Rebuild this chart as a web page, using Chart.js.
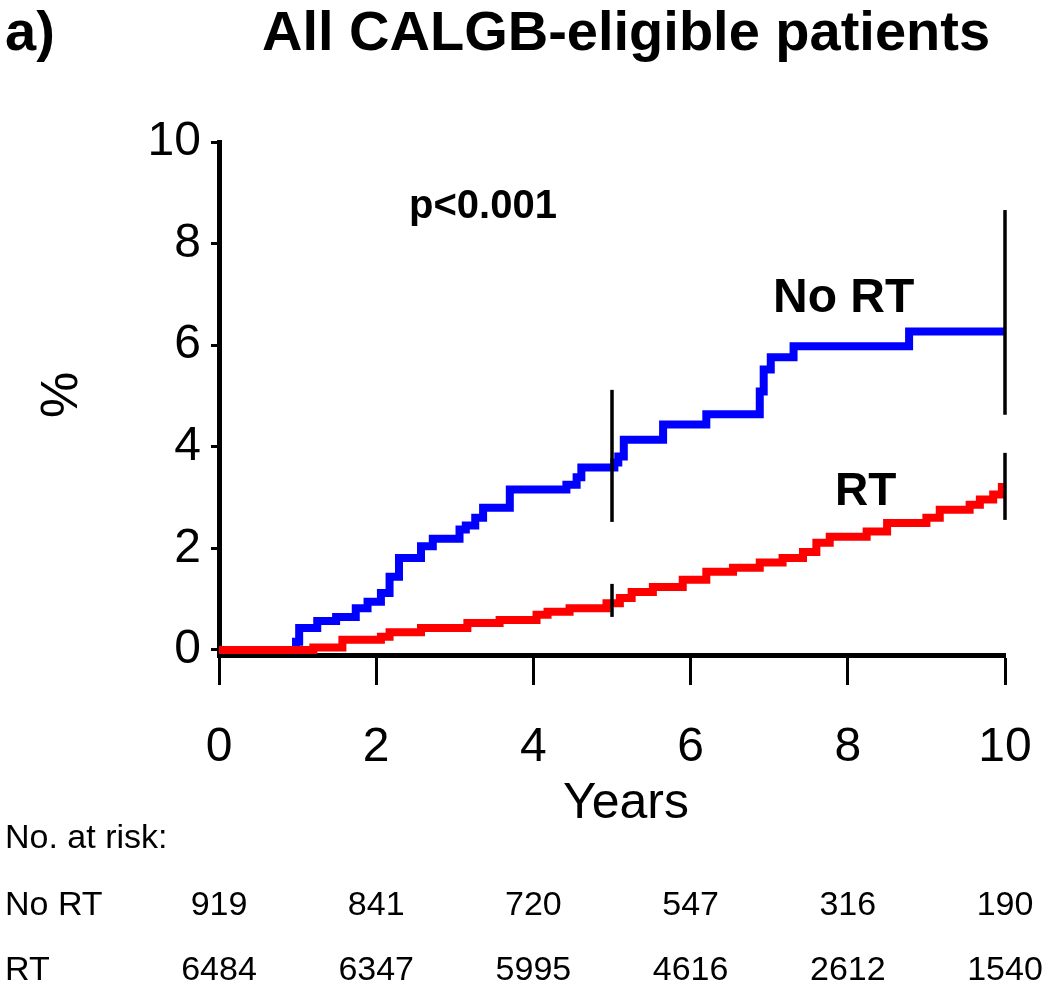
<!DOCTYPE html>
<html>
<head>
<meta charset="utf-8">
<script src="https://cdn.jsdelivr.net/npm/chart.js@4.4.1/dist/chart.umd.min.js"></script>
<style>
  html, body { margin: 0; padding: 0; background: #ffffff; }
  #wrap { width: 1050px; height: 989px; }
</style>
</head>
<body>
<div id="wrap"><canvas id="c" width="1050" height="989"></canvas></div>
<script>
// ---- Data ----
const noRtTimes = [0, 0.98, 1.02, 1.25, 1.49, 1.74, 1.89, 2.06, 2.17, 2.29, 2.57, 2.72, 3.06, 3.14, 3.26, 3.36, 3.7, 4.42, 4.55, 4.61, 5.03, 5.08, 5.15, 5.65, 6.2, 6.88, 6.93, 7.02, 7.31, 8.78, 10];
const noRtPct   = [0, 0.16, 0.43, 0.57, 0.65, 0.82, 0.95, 1.12, 1.44, 1.81, 2.04, 2.19, 2.37, 2.45, 2.6, 2.8, 3.16, 3.25, 3.4, 3.59, 3.69, 3.81, 4.14, 4.44, 4.64, 5.09, 5.52, 5.76, 5.98, 6.27, 6.27];

const rtTimes = [0, 1.2, 1.57, 2.06, 2.17, 2.57, 3.16, 3.57, 4.04, 4.18, 4.46, 4.93, 5.1, 5.25, 5.52, 5.9, 6.2, 6.54, 6.88, 7.17, 7.43, 7.6, 7.77, 8.24, 8.5, 9.0, 9.17, 9.55, 9.68, 9.85, 9.96, 10];
const rtPct   = [0, 0.05, 0.2, 0.26, 0.35, 0.43, 0.53, 0.59, 0.69, 0.75, 0.82, 0.92, 1.02, 1.14, 1.24, 1.38, 1.54, 1.62, 1.72, 1.81, 1.93, 2.11, 2.23, 2.33, 2.5, 2.6, 2.76, 2.86, 2.96, 3.06, 3.21, 3.21];

// vertical marks at 5 and 10 years: [time, low %, high %]
const noRtMarks = [[5, 2.52, 5.12], [10, 4.63, 8.66]];
const rtMarks   = [[5, 0.65, 1.3], [10, 2.56, 3.88]];

const xTicks = [0, 2, 4, 6, 8, 10];
const yTicks = [0, 2, 4, 6, 8, 10];

const riskTimes  = [0, 2, 4, 6, 8, 10];
const riskNoRT   = [919, 841, 720, 547, 316, 190];
const riskRT     = [6484, 6347, 5995, 4616, 2612, 1540];

const titleText = "All CALGB-eligible patients";
const panelText = "a)";
const pText = "p<0.001";

// ---- Build datasets ----
const toPts = (xs, ys) => xs.map((x, i) => ({ x: x, y: ys[i] }));
const markSets = noRtMarks.concat(rtMarks).map(m => ({
  data: [{ x: m[0], y: m[1] }, { x: m[0], y: m[2] }],
  borderColor: '#000000', borderWidth: 3.5, pointRadius: 0, stepped: false,
  borderCapStyle: 'butt', fill: false, clip: false
}));

const FONT = "'Liberation Sans', Arial, Helvetica, sans-serif";

const textPlugin = {
  id: 'texts',
  afterDraw(chart) {
    const ctx = chart.ctx;
    const xs = chart.scales.x;
    ctx.save();
    ctx.fillStyle = '#000';
    ctx.textBaseline = 'alphabetic';
    ctx.textAlign = 'left';
    ctx.font = 'bold 56px ' + FONT;
    ctx.fillText(panelText, 5, 50);
    ctx.fillText(titleText, 262, 50);

    ctx.font = 'bold 40px ' + FONT;
    ctx.fillText(pText, 409, 218);

    ctx.font = 'bold 48px ' + FONT;
    ctx.fillText('No RT', 773, 312);
    ctx.font = 'bold 46px ' + FONT;
    ctx.fillText('RT', 835, 505);

    // axis titles
    ctx.font = '50px ' + FONT;
    ctx.textAlign = 'center';
    ctx.fillText('Years', 626, 818);

    ctx.save();
    ctx.translate(63, 395);
    ctx.rotate(-Math.PI / 2);
    ctx.font = '52px ' + FONT;
    ctx.textBaseline = 'middle';
    ctx.fillText('%', 0, 0);
    ctx.restore();

    // at-risk table
    ctx.textAlign = 'left';
    ctx.font = '34px ' + FONT;
    ctx.fillText('No. at risk:', 5, 848);
    ctx.fillText('No RT', 5, 915);
    ctx.fillText('RT', 5, 980);
    ctx.textAlign = 'center';
    riskTimes.forEach((t, i) => {
      const px = xs.getPixelForValue(t);
      ctx.fillText(String(riskNoRT[i]), px, 915);
      ctx.fillText(String(riskRT[i]), px, 980);
    });
    ctx.restore();
  }
};

new Chart(document.getElementById('c'), {
  type: 'line',
  data: {
    datasets: markSets.concat([
      { label: 'RT', data: toPts(rtTimes, rtPct), borderColor: '#ff0000', borderWidth: 8,
        pointRadius: 0, stepped: true, fill: false, borderJoinStyle: 'miter', borderCapStyle: 'butt', clip: false },
      { label: 'No RT', data: toPts(noRtTimes, noRtPct), borderColor: '#0000ff', borderWidth: 8,
        pointRadius: 0, stepped: true, fill: false, borderJoinStyle: 'miter', borderCapStyle: 'butt', clip: false }
    ])
  },
  options: {
    responsive: false,
    animation: false,
    devicePixelRatio: 1,
    layout: { padding: { top: 142, right: 45, left: 0, bottom: 194 } },
    plugins: { legend: { display: false }, tooltip: { enabled: false }, title: { display: false } },
    scales: {
      x: {
        type: 'linear', min: 0, max: 10,
        afterBuildTicks: s => { s.ticks = xTicks.map(v => ({ value: v })); },
        afterFit: s => { s.height = 140; s.paddingLeft = 0; s.paddingRight = 0; },
        grid: { display: true, drawOnChartArea: false, drawTicks: true, tickLength: 30, tickWidth: 3, tickColor: '#000' },
        border: { display: true, color: '#000', width: 5 },
        ticks: { color: '#000', font: { family: FONT, size: 48 }, padding: 34, maxRotation: 0, autoSkip: false }
      },
      y: {
        type: 'linear', min: -0.1, max: 10,
        afterBuildTicks: s => { s.ticks = yTicks.map(v => ({ value: v })); },
        afterFit: s => { s.width = 219; },
        grid: { display: true, drawOnChartArea: false, drawTicks: true, tickLength: 8, tickWidth: 3, tickColor: '#000' },
        border: { display: true, color: '#000', width: 5 },
        ticks: { color: '#000', font: { family: FONT, size: 48 }, padding: 10, autoSkip: false }
      }
    }
  },
  plugins: [textPlugin]
});
</script>
</body>
</html>
